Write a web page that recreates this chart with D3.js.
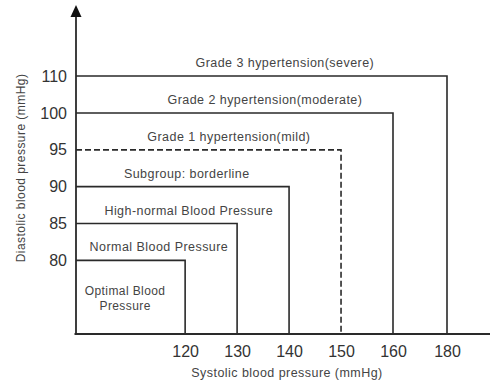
<!DOCTYPE html>
<html>
<head>
<meta charset="utf-8">
<script src="https://cdn.jsdelivr.net/npm/d3@7/dist/d3.min.js"></script>
<style>
  html, body { margin: 0; padding: 0; background: #fff; }
  svg { display: block; }
  text { font-family: "Liberation Sans", Arial, Helvetica, sans-serif; }
</style>
</head>
<body>
<svg id="chart" width="490" height="387"></svg>
<script>
// Blood pressure classification: each box is bounded by a systolic / diastolic limit (mmHg)
const boxSystolic  = [120, 130, 140, 150, 160, 180];
const boxDiastolic = [80, 85, 90, 95, 100, 110];
const boxDashed    = [false, false, false, true, false, false];

// Category names: the first sits inside the first box, each later one above box i-1
const categories = [
  "Optimal Blood Pressure",
  "Normal Blood Pressure",
  "High-normal Blood Pressure",
  "Subgroup: borderline",
  "Grade 1 hypertension(mild)",
  "Grade 2 hypertension(moderate)",
  "Grade 3 hypertension(severe)"
];

const systolicTicks  = [120, 130, 140, 150, 160, 180];
const diastolicTicks = [80, 85, 90, 95, 100, 110];

// Caption centre as a fraction of the width of the box edge it sits on
const captionAt = [0.45, 0.76, 0.70, 0.52, 0.577, 0.596, 0.563];

const svg = d3.select("#chart");
const ink = "#2a2a2a";

// Axes are compressed above 160 / 100, so use piecewise scales
const x = d3.scaleLinear().domain([99, 160, 180]).range([76, 393, 447]);
const y = d3.scaleLinear().domain([70, 100, 110]).range([334, 113, 76]);

const x0 = x(99), y0 = y(70);

const boxes = boxSystolic.map((s, i) => ({ sys: s, dia: boxDiastolic[i], dashed: boxDashed[i] }));

const g = svg.append("g");

// Top and right edges of each box, from the origin corner
g.selectAll("path.box")
  .data(boxes)
  .join("path")
  .attr("class", "box")
  .attr("d", b => `M${x0},${y(b.dia)}H${x(b.sys)}V${y0}`)
  .attr("fill", "none")
  .attr("stroke", ink)
  .attr("stroke-width", 1.6)
  .attr("stroke-dasharray", b => b.dashed ? "6,3" : null);

// Captions
categories.forEach((name, i) => {
  if (i === 0) {
    const b = boxes[0];
    const cx = x0 + (x(b.sys) - x0) * captionAt[0];
    const t = g.append("text")
      .attr("text-anchor", "middle")
      .attr("font-size", 12).attr("letter-spacing", 0.4).attr("fill", "#444");
    t.append("tspan").attr("x", cx).attr("y", 295).text("Optimal Blood");
    t.append("tspan").attr("x", cx).attr("y", 310).text("Pressure");
  } else {
    const b = boxes[i - 1];
    const cx = x0 + (x(b.sys) - x0) * captionAt[i];
    g.append("text")
      .attr("x", cx).attr("y", y(b.dia) - 9)
      .attr("text-anchor", "middle")
      .attr("font-size", 12.5).attr("letter-spacing", 0.45)
      .attr("fill", "#444")
      .text(name);
  }
});

// Axis lines with the arrow on the diastolic axis
svg.append("line")
  .attr("x1", x0 - 1.5).attr("x2", 490).attr("y1", y0).attr("y2", y0)
  .attr("stroke", ink).attr("stroke-width", 1.8);
svg.append("line")
  .attr("x1", x0).attr("x2", x0).attr("y1", y0).attr("y2", 14)
  .attr("stroke", ink).attr("stroke-width", 1.8);
svg.append("path")
  .attr("d", `M${x0},5L${x0 - 5.5},17L${x0 + 5.5},17Z`)
  .attr("fill", "#111");

// Tick labels
const yAxis = svg.append("g")
  .attr("transform", `translate(${x0},0)`)
  .call(d3.axisLeft(y).tickValues(diastolicTicks).tickSize(0).tickPadding(9).tickFormat(d3.format("d")));
yAxis.select(".domain").remove();
yAxis.selectAll("text").attr("font-size", 16).attr("fill", "#333")
  .attr("font-family", "Liberation Sans, Arial, sans-serif");

const xAxis = svg.append("g")
  .attr("transform", `translate(0,${y0})`)
  .call(d3.axisBottom(x).tickValues(systolicTicks).tickSize(0).tickPadding(12).tickFormat(d3.format("d")));
xAxis.select(".domain").remove();
xAxis.selectAll("text").attr("font-size", 16).attr("fill", "#333")
  .attr("font-family", "Liberation Sans, Arial, sans-serif");

// Axis titles
svg.append("text")
  .attr("x", 287).attr("y", 377)
  .attr("text-anchor", "middle")
  .attr("font-size", 12.5).attr("letter-spacing", 0.45).attr("fill", "#444")
  .text("Systolic blood pressure (mmHg)");

svg.append("text")
  .attr("transform", "translate(25,168) rotate(-90)")
  .attr("text-anchor", "middle")
  .attr("font-size", 12).attr("letter-spacing", 0.45).attr("fill", "#444")
  .text("Diastolic blood pressure (mmHg)");
</script>
</body>
</html>
